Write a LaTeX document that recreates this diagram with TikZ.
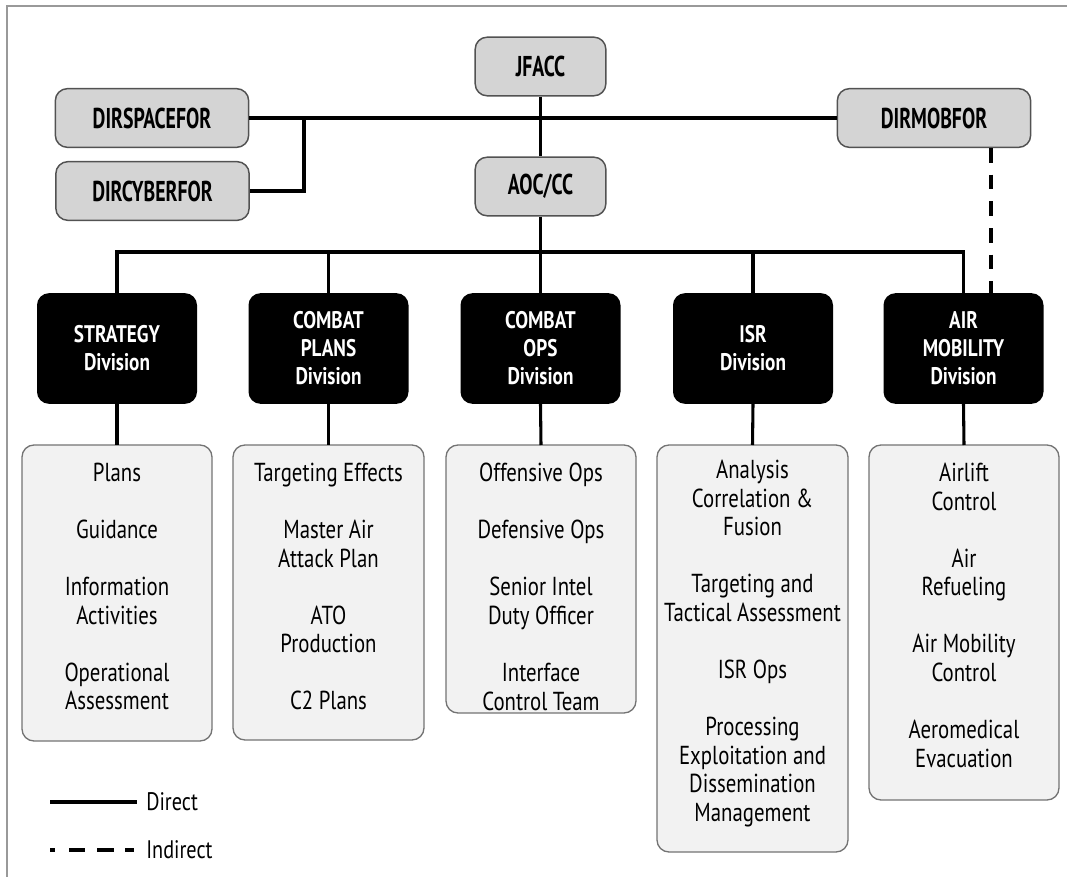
\documentclass[tikz,border=0pt]{standalone}
\usepackage{fontspec}
\setmainfont{PT Sans}[FakeStretch=0.75]
\newfontfamily\listfont{PT Sans}[FakeStretch=0.8]
\newfontfamily\topfont{PT Sans}[FakeStretch=0.69]
\newfontfamily\divfont{PT Sans}[FakeStretch=0.8]
\begin{document}
\begin{tikzpicture}[x=0.75pt,y=-0.75pt,
  conn/.style={line width=2.3pt,black},
  indirect/.style={line width=2.3pt,black,dash pattern=on 11pt off 9pt},
  topbox/.style={draw=black!68,line width=1.1pt,fill=black!17,rounded corners=9pt,
    font=\topfont\bfseries\fontsize{21.5}{24}\selectfont,inner sep=0pt},
  divbox/.style={fill=black,rounded corners=9pt,text=white,align=center,
    minimum width=120pt,minimum height=83pt,inner sep=0pt,
    font=\divfont\bfseries\fontsize{18}{21}\selectfont},
  listbox/.style={draw=black!55,line width=1pt,fill=black!5,rounded corners=9pt},
  listtext/.style={anchor=north,inner sep=0pt,align=center,
    font=\listfont\fontsize{19.5}{21.4}\selectfont},
  legtext/.style={anchor=west,inner sep=0pt,font=\listfont\fontsize{19}{21}\selectfont}]
\useasboundingbox (0,0) rectangle (1067,877);
\draw[black!40,line width=1.2pt] (7,877) -- (7,6) -- (1067,6);

% top nodes
\node[topbox,minimum width=98pt,minimum height=44pt] (jfacc) at (540.5,66.5) {JFACC};
\node[topbox,minimum width=98pt,minimum height=44pt] (aoc) at (540.5,186.5) {AOC/CC};
\node[topbox,minimum width=145pt,minimum height=44pt] (space) at (152,118) {DIRSPACEFOR};
\node[topbox,minimum width=145pt,minimum height=44pt] (cyber) at (152.5,191) {DIRCYBERFOR};
\node[topbox,minimum width=145pt,minimum height=44pt] (mob) at (934,118) {DIRMOBFOR};

% divisions
\node[divbox] (sdiv) at (117,348.5) {STRATEGY\\Division};
\node[divbox] (cpdiv) at (328.5,348.5) {COMBAT\\PLANS\\Division};
\node[divbox] (codiv) at (540.5,348.5) {COMBAT\\OPS\\Division};
\node[divbox] (idiv) at (753,348.5) {ISR\\Division};
\node[divbox] (adiv) at (963.5,348.5) {AIR\\MOBILITY\\Division};

% list boxes
\draw[listbox] (22,445) rectangle (212,741);
\draw[listbox] (233,445) rectangle (424,740);
\draw[listbox] (446,445) rectangle (636,713);
\draw[listbox] (657,445) rectangle (848,852);
\draw[listbox] (869,445) rectangle (1059,800);
\coordinate (slist) at (117,445);
\coordinate (cplist) at (328.5,445);
\coordinate (colist) at (541,445);
\coordinate (ilist) at (752.5,445);
\coordinate (alist) at (964,445);

\node[listtext] (st) at (117,463) {Plans\\[21.4pt]Guidance\\[21.4pt]Information\\Activities\\[21.4pt]Operational\\Assessment};
\node[listtext] (cpt) at (328.5,463) {Targeting Effects\\[21.4pt]Master Air\\Attack Plan\\[21.4pt]ATO\\Production\\[21.4pt]C2 Plans};
\node[listtext] (cot) at (541,463) {Offensive Ops\\[21.4pt]Defensive Ops\\[21.4pt]Senior Intel\\Duty Officer\\[21.4pt]Interface\\Control Team};
\node[listtext] (it) at (752.5,460) {Analysis\\Correlation \&\\Fusion\\[21.4pt]Targeting and\\Tactical Assessment\\[21.4pt]ISR Ops\\[21.4pt]Processing\\Exploitation and\\Dissemination\\Management};
\node[listtext] (at) at (964,463) {Airlift\\Control\\[21.4pt]Air\\Refueling\\[21.4pt]Air Mobility\\Control\\[21.4pt]Aeromedical\\Evacuation};

% connectors
\coordinate (bus) at (0,252);
\coordinate (dashx) at (991,0);
\draw[conn] (jfacc.south) -- (aoc.north);
\draw[conn] (space.east) -- (mob.west);
\coordinate (cyj) at (304,118);
\draw[conn] (cyj) |- (cyber.east);
\draw[conn] (aoc.south) -- (aoc.south |- bus);
\draw[conn] (sdiv.north) -- (sdiv.north |- bus) -- (adiv.north |- bus) -- (adiv.north);
\draw[conn] (cpdiv.north) -- (cpdiv.north |- bus);
\draw[conn] (codiv.north) -- (codiv.north |- bus);
\draw[conn] (idiv.north) -- (idiv.north |- bus);
\draw[conn] (sdiv.south) -- (slist);
\draw[conn] (cpdiv.south) -- (cplist);
\draw[conn] (codiv.south) -- (colist);
\draw[conn] (idiv.south) -- (ilist);
\draw[conn] (adiv.south) -- (alist);
\draw[indirect] (mob.south -| dashx) -- (adiv.north -| dashx);

% legend
\coordinate (la1) at (50,802);
\coordinate (lb1) at (137,802);
\coordinate (la2) at (50,850);
\coordinate (lb2) at (137,850);
\draw[conn] (la1) -- (lb1);
\draw[line width=2.3pt,dash pattern=on 3.75pt off 10.5pt on 12pt off 9pt on 12.75pt off 8.25pt on 7pt] (la2) -- (lb2);
\node[legtext] (ld) at (146,802) {Direct};
\node[legtext] (li) at (146,850) {Indirect};
\end{tikzpicture}
\end{document}
